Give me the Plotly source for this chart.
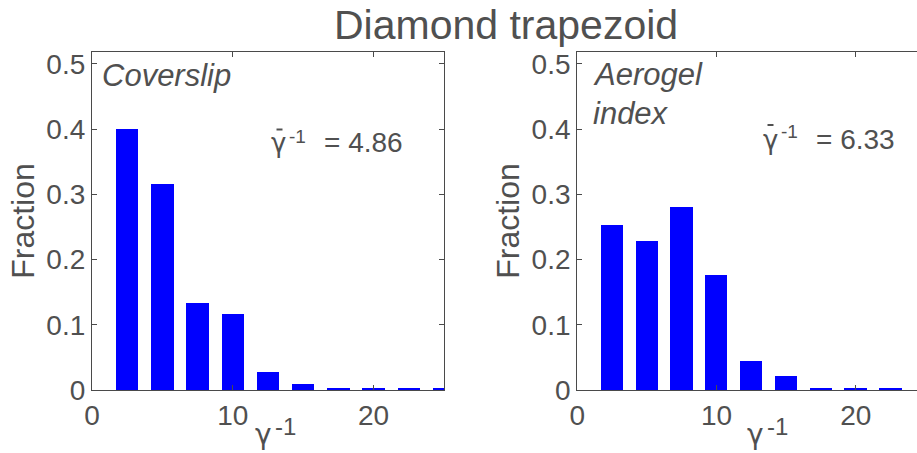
import plotly.graph_objects as go

# ---- data ----
bin_centers_left = [2.5, 5.0, 7.5, 10.0, 12.5, 15.0, 17.5, 20.0, 22.5, 25.0]
fraction_left = [0.400, 0.316, 0.133, 0.116, 0.028, 0.009, 0.002, 0.002, 0.002, 0.002]
bin_centers_right = [2.5, 5.0, 7.5, 10.0, 12.5, 15.0, 17.5, 20.0, 22.5]
fraction_right = [0.253, 0.229, 0.281, 0.177, 0.045, 0.021, 0.002, 0.002, 0.002]
y_ticks = [0, 0.1, 0.2, 0.3, 0.4, 0.5]
y_ticklabels = ["0", "0.1", "0.2", "0.3", "0.4", "0.5"]
x_ticks = [0, 10, 20]
x_ticklabels = ["0", "10", "20"]
title_text = "Diamond trapezoid"
label_left = "Coverslip"
label_right = ["Aerogel", "index"]
mean_left = "= 4.86"
mean_right = "= 6.33"

W, H = 917, 453
FONT = "Liberation Sans, Arial, sans-serif"
GFONT = "DejaVu Sans, Liberation Sans, sans-serif"
TXT = "#505050"
AX = "#4a4a4a"
BLUE = "#0000ff"


def px(x):
    return x / W


def py(y):
    return 1 - y / H


fig = go.Figure()
fig.add_trace(go.Bar(x=bin_centers_left, y=fraction_left, width=1.6,
                     marker=dict(color=BLUE, line=dict(width=0)),
                     xaxis="x", yaxis="y", showlegend=False))
fig.add_trace(go.Bar(x=bin_centers_right, y=fraction_right, width=1.6,
                     marker=dict(color=BLUE, line=dict(width=0)),
                     xaxis="x2", yaxis="y2", showlegend=False))

ydom = [py(390), py(52)]
common_x = dict(tickvals=x_ticks, ticktext=x_ticklabels, ticks="inside", ticklen=5,
                tickcolor=AX, showline=True, linecolor=AX, linewidth=1.3,
                showgrid=False, zeroline=False, automargin=False,
                tickfont=dict(family=FONT, size=28, color=TXT))
common_y = dict(tickvals=y_ticks, ticktext=y_ticklabels, ticks="inside", ticklen=5,
                tickcolor=AX, showline=True, linecolor=AX, linewidth=1.3,
                showgrid=False, zeroline=False, range=[0, 0.518], domain=ydom,
                automargin=False,
                tickfont=dict(family=FONT, size=28, color=TXT),
                title=dict(text="Fraction", font=dict(family=FONT, size=32, color=TXT),
                           standoff=2))

fig.update_layout(
    width=W, height=H,
    margin=dict(l=0, r=0, t=0, b=0),
    paper_bgcolor="white", plot_bgcolor="white",
    bargap=0,
    xaxis=dict(common_x, domain=[px(92), px(444)], range=[0, 25], mirror="ticks", anchor="y"),
    yaxis=dict(common_y, mirror="ticks", anchor="x"),
    xaxis2=dict(common_x, domain=[px(577.3), 1.0], range=[0, 24.39], mirror="ticks", anchor="y2"),
    yaxis2=dict(common_y, mirror=False, anchor="x2"),
)

ann = []
shapes = []


def add(text, x, y, size, xanchor="center", yanchor="middle", italic=False, family=FONT):
    f = dict(family=family, size=size, color=TXT)
    if italic:
        f["style"] = "italic"
    ann.append(dict(text=text, x=px(x), y=py(y), xref="paper", yref="paper",
                    xanchor=xanchor, yanchor=yanchor, showarrow=False, font=f))


add(title_text, 506, 25, 41)
add(label_left, 100, 76, 31, xanchor="left", italic=True)
add(label_right[0], 591, 75, 31, xanchor="left", italic=True)
add(label_right[1], 591, 114, 31, xanchor="left", italic=True)

# mean annotations: gamma, bar over gamma (short line), superscript -1, value
for gx, gy, barx, bary, supx, supy, eqx, eqy, txt in [
    (278, 143, 279.5, 129.5, 287, 136, 322, 142, mean_left),
    (770, 140, 770.5, 125, 779, 131.5, 814, 139, mean_right),
]:
    add("γ", gx, gy, 26, family=GFONT)
    shapes.append(dict(type="line", xref="paper", yref="paper",
                       x0=px(barx - 3), x1=px(barx + 3), y0=py(bary), y1=py(bary),
                       line=dict(color=TXT, width=2)))
    add("-1", supx, supy, 19, xanchor="left")
    add(txt, eqx, eqy, 28, xanchor="left")

# x axis titles
for gx, supx in [(263, 272.5), (755, 764.5)]:
    add("γ", gx, 434, 28, family=GFONT)
    add("-1", supx, 426, 24, xanchor="left")

fig.update_layout(annotations=ann, shapes=shapes)
fig.write_html("out.html")
